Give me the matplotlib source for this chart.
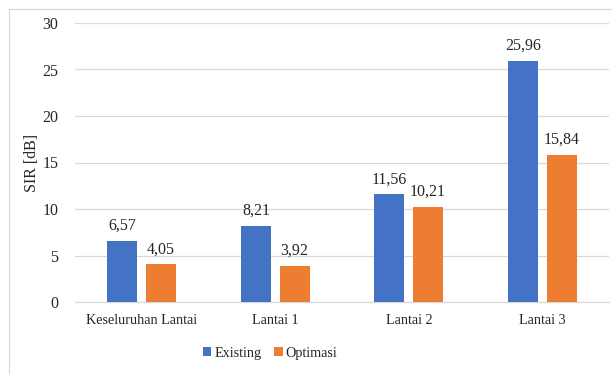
import matplotlib
matplotlib.use('Agg')
import matplotlib.pyplot as plt
from matplotlib.patches import Rectangle
import numpy as np

# Data SIR per lantai
kategori = ["Keseluruhan Lantai", "Lantai 1", "Lantai 2", "Lantai 3"]
existing = [6.57, 8.21, 11.56, 25.96]
optimasi = [4.05, 3.92, 10.21, 15.84]
y_ticks = [0, 5, 10, 15, 20, 25, 30]

plt.rcParams['font.family'] = ['Liberation Serif', 'DejaVu Serif']

W, H = 612, 374
fig = plt.figure(figsize=(W / 100, H / 100), dpi=100, facecolor='white')
ax = fig.add_axes([75 / W, 1 - 302 / H, 534 / W, 279 / H])

x = np.arange(len(kategori))
lebar = 0.225
jarak = 0.145
b1 = ax.bar(x - jarak, existing, lebar, color='#4472C4', label='Existing', zorder=3)
b2 = ax.bar(x + jarak, optimasi, lebar, color='#ED7D31', label='Optimasi', zorder=3)

# Label nilai dengan koma desimal
for bars in (b1, b2):
    for b in bars:
        v = b.get_height()
        ax.annotate(f"{v:.2f}".replace('.', ','), (b.get_x() + b.get_width() / 2, v),
                    xytext=(0, 5), textcoords='offset points', ha='center', va='bottom',
                    fontsize=11.5, color='#262626')

ax.set_xlim(-0.5, len(kategori) - 0.5)
ax.set_ylim(0, 30)
ax.set_yticks(y_ticks)
ax.set_xticks(x)
ax.set_xticklabels(kategori, fontsize=10.2)
ax.tick_params(axis='both', length=0, labelcolor='#262626')
ax.tick_params(axis='y', pad=12, labelsize=11.5)
ax.tick_params(axis='x', pad=9)
ax.set_ylabel("SIR [dB]", fontsize=11.5, color='#262626', labelpad=2)

ax.yaxis.grid(True, color='#D9D9D9', linewidth=0.9, zorder=0)
for s in ['top', 'right', 'left']:
    ax.spines[s].set_visible(False)
ax.spines['bottom'].set_color('#D9D9D9')
ax.spines['bottom'].set_linewidth(0.9)

leg = fig.legend(handles=[b1, b2], loc='center', bbox_to_anchor=(270 / W, 1 - 353 / H), ncol=2,
                 frameon=False, fontsize=10.2, handlelength=0.6, handleheight=0.6,
                 handletextpad=0.2, columnspacing=0.9)
for t in leg.get_texts():
    t.set_color('#262626')

# Bingkai area chart
fig.patches.append(Rectangle((9 / W, -0.2), 1.2, 1.2 - 9 / H, transform=fig.transFigure,
                             fill=False, edgecolor='#D9D9D9', linewidth=0.9))

fig.savefig('out.png', dpi=100, facecolor='white')
plt.close(fig)
